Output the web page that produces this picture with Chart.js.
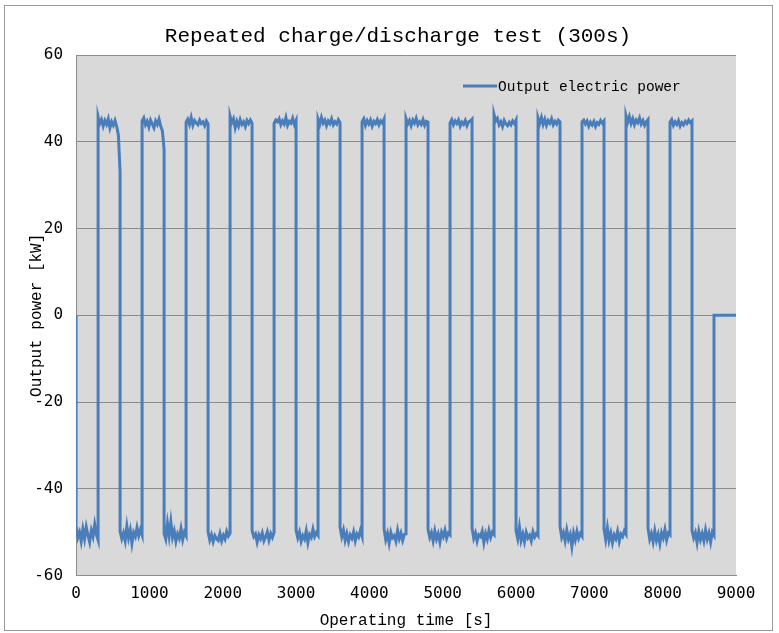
<!DOCTYPE html>
<html>
<head>
<meta charset="utf-8">
<title>Repeated charge/discharge test (300s)</title>
<script src="https://cdn.jsdelivr.net/npm/chart.js@4.4.1/dist/chart.umd.min.js"></script>
<style>
  html, body { margin: 0; padding: 0; background: #fff; }
  #frame {
    position: absolute; left: 4px; top: 5px;
    width: 767px; height: 624px;
    border: 1px solid #9a9a9a;
  }
  #wrap { position: absolute; left: 0; top: 0; width: 779px; height: 633px; }
</style>
</head>
<body>
<div id="frame"></div>
<div id="wrap"><canvas id="powerChart" width="779" height="633"></canvas></div>
<script>
// switching instants of the converter [s]; low (charge) and high (discharge) alternate
const switchTimes = [0, 300, 600, 900, 1200, 1500, 1800, 2100, 2400, 2700, 3000,
  3300, 3600, 3900, 4200, 4500, 4800, 5100, 5400, 5700, 6000, 6300, 6600, 6900,
  7200, 7500, 7800, 8100, 8400, 8700];

// logged output power on the charge plateaus [kW]
const lowReadings = [
  [-48.5, -51.2, -50.0, -52.1, -49.3, -51.5, -48.8, -50.7, -52.3, -49.6, -51.0, -48.2, -50.5, -51.8],
  [-49.8, -51.5, -50.2, -52.0, -48.6, -51.3, -49.5, -52.6, -50.1, -51.0, -48.9, -50.8, -49.4, -50.6],
  [-50.3, -51.6, -48.0, -50.9, -47.6, -51.2, -49.7, -52.1, -50.4, -51.4, -49.2, -51.7, -50.0, -50.8],
  [-49.9, -51.8, -50.6, -52.2, -50.8, -51.5, -51.9, -50.3, -52.0, -50.7, -51.6, -49.8, -50.9, -50.2],
  [-49.6, -51.0, -50.4, -52.3, -50.6, -51.5, -50.2, -52.0, -51.1, -49.9, -51.8, -50.3, -51.2, -50.0],
  [-49.5, -51.3, -50.0, -52.1, -50.8, -51.6, -49.7, -52.4, -50.5, -51.2, -49.3, -51.0, -50.1, -50.7],
  [-48.8, -51.0, -49.5, -51.9, -50.3, -52.2, -50.6, -51.4, -49.9, -52.0, -50.4, -51.1, -49.6, -50.9],
  [-49.2, -51.7, -50.3, -52.5, -50.0, -51.3, -50.8, -52.1, -49.6, -51.5, -50.2, -51.9, -50.5, -50.4],
  [-49.4, -51.2, -50.1, -52.0, -49.7, -51.6, -50.4, -52.3, -50.0, -51.0, -49.5, -51.4, -50.2, -50.6],
  [-49.0, -51.4, -50.2, -52.1, -50.6, -51.0, -49.8, -52.4, -50.3, -51.6, -49.6, -51.2, -50.0, -50.5],
  [-49.7, -51.5, -48.8, -51.9, -50.4, -52.2, -50.0, -51.3, -50.7, -52.0, -49.9, -51.1, -50.3, -50.8],
  [-48.6, -51.2, -50.1, -52.0, -49.5, -51.6, -50.5, -53.3, -50.2, -51.8, -49.8, -51.4, -50.3, -50.9],
  [-49.3, -51.7, -49.0, -51.9, -50.2, -52.4, -50.6, -51.5, -49.8, -52.1, -50.4, -51.0, -49.7, -50.4],
  [-49.0, -51.6, -50.3, -52.2, -49.7, -51.9, -50.5, -52.6, -50.1, -51.3, -49.4, -51.8, -50.2, -50.6],
  [-49.6, -51.3, -50.1, -52.4, -49.8, -51.7, -50.3, -52.0, -49.5, -51.6, -50.2, -52.3, -50.0, -50.7]
];

// logged output power on the discharge plateaus [kW]
const highReadings = [
  [45.8, 44.2, 45.1, 43.6, 44.9, 44.0, 45.3, 43.2, 44.6, 43.8, 44.9, 43.5, 41.5, 33.0],
  [44.8, 45.5, 43.9, 44.7, 43.4, 45.0, 44.1, 43.2, 44.8, 44.0, 45.2, 43.6, 42.5, 38.2],
  [44.5, 45.2, 44.0, 45.6, 43.8, 44.9, 44.3, 43.9, 45.0, 44.2, 44.6, 43.7, 44.8, 44.1],
  [45.9, 44.4, 45.3, 43.2, 44.7, 43.6, 45.1, 44.0, 44.6, 43.5, 44.9, 44.2, 45.0, 44.3],
  [44.2, 45.0, 44.6, 45.3, 43.9, 44.8, 44.1, 45.6, 43.8, 44.7, 44.3, 45.4, 44.0, 44.9],
  [45.2, 44.0, 45.6, 44.3, 45.0, 43.7, 44.8, 44.2, 45.3, 43.9, 44.6, 44.1, 45.1, 44.4],
  [44.6, 45.3, 43.8, 44.9, 44.1, 45.0, 43.6, 44.7, 44.2, 45.1, 43.9, 44.8, 44.3, 45.2],
  [45.3, 44.1, 44.9, 43.7, 45.0, 44.3, 45.4, 43.9, 44.6, 44.0, 45.1, 43.8, 44.7, 44.5],
  [44.3, 45.1, 43.9, 44.8, 44.2, 45.0, 43.6, 44.5, 44.0, 44.9, 43.7, 44.6, 44.8, 45.2],
  [46.3, 44.8, 45.4, 43.9, 44.6, 43.5, 44.9, 44.1, 43.7, 44.5, 43.9, 44.8, 44.2, 45.0],
  [45.5, 44.2, 45.6, 44.0, 45.2, 43.8, 44.9, 44.3, 45.3, 43.9, 44.7, 44.1, 45.0, 44.6],
  [44.6, 45.0, 44.1, 44.8, 43.6, 44.5, 43.9, 44.7, 43.5, 44.4, 44.0, 44.9, 44.3, 44.8],
  [46.0, 44.5, 45.8, 44.2, 45.3, 43.9, 45.0, 44.4, 45.5, 44.1, 44.9, 43.8, 44.6, 45.1],
  [44.5, 45.1, 43.8, 44.6, 44.0, 44.9, 43.6, 44.4, 43.9, 44.7, 44.2, 45.0, 44.4, 44.8]
];

// standby before the start and after the last cycle
const idleTimes = [0, 8700, 9000];
const idlePower = [0, 0, 0];

const xTicks = [0, 1000, 2000, 3000, 4000, 5000, 6000, 7000, 8000, 9000];
const yTicks = [-60, -40, -20, 0, 20, 40, 60];

// build the trace: idle -> low, high, low ... -> idle
const points = [{ x: idleTimes[0], y: idlePower[0] }];
for (let k = 0; k < switchTimes.length - 1; k++) {
  const t0 = switchTimes[k];
  const t1 = switchTimes[k + 1];
  const r = k % 2 === 0 ? lowReadings[k / 2] : highReadings[(k - 1) / 2];
  r.forEach((v, j) => {
    points.push({ x: t0 + j * (t1 - t0) / (r.length - 1), y: v });
  });
}
// last charge plateau runs up to the stop
const lastLow = lowReadings[lowReadings.length - 1];
const tEnd = idleTimes[1];
const tLast = switchTimes[switchTimes.length - 1];
if (tLast < tEnd) {
  lastLow.forEach((v, j) => points.push({ x: tLast + j * (tEnd - tLast) / (lastLow.length - 1), y: v }));
}
points.push({ x: idleTimes[1], y: idlePower[1] });
points.push({ x: idleTimes[2], y: idlePower[2] });

const monoSerif = "'Liberation Mono', 'DejaVu Sans Mono', monospace";
const monoSans = "'DejaVu Sans Mono', monospace";

// gray plot background, title and legend inside the plot
const chartDecor = {
  id: 'chartDecor',
  beforeDraw(chart) {
    const a = chart.chartArea;
    const ctx = chart.ctx;
    ctx.save();
    ctx.fillStyle = '#d9d9d9';
    ctx.fillRect(a.left, a.top, a.right - a.left, a.bottom - a.top);
    ctx.restore();
  },
  afterDraw(chart) {
    const a = chart.chartArea;
    const ctx = chart.ctx;
    ctx.save();
    ctx.fillStyle = '#000';
    ctx.textAlign = 'center';
    ctx.textBaseline = 'middle';
    ctx.font = "21px " + monoSerif;
    ctx.fillText('Repeated charge/discharge test (300s)', 398, 36);

    const lx = a.right - 273, ly = a.top + 31;
    ctx.strokeStyle = '#4a7ebb';
    ctx.lineWidth = 3;
    ctx.beginPath();
    ctx.moveTo(lx, ly);
    ctx.lineTo(lx + 34, ly);
    ctx.stroke();
    ctx.textAlign = 'left';
    ctx.font = "14.5px " + monoSerif;
    ctx.fillText(chart.data.datasets[0].label, lx + 35, ly + 1);
    ctx.restore();
  }
};

new Chart(document.getElementById('powerChart'), {
  type: 'line',
  data: {
    datasets: [{
      label: 'Output electric power',
      data: points,
      borderColor: '#4a7ebb',
      backgroundColor: '#4a7ebb',
      borderWidth: 3,
      pointRadius: 0,
      tension: 0,
      fill: false
    }]
  },
  options: {
    responsive: false,
    animation: false,
    layout: { padding: { top: 55, right: 43, bottom: 3, left: 8 } },
    plugins: {
      legend: { display: false },
      title: { display: false },
      tooltip: { enabled: false }
    },
    scales: {
      x: {
        type: 'linear',
        min: 0,
        max: 9000,
        afterBuildTicks: axis => { axis.ticks = xTicks.map(v => ({ value: v })); },
        grid: { display: false, drawTicks: false },
        border: { display: true, color: '#8c8c8c', width: 1 },
        ticks: {
          color: '#000', padding: 9, maxRotation: 0,
          font: { family: monoSans, size: 16 },
          callback: v => String(v)
        },
        title: {
          display: true,
          text: 'Operating time [s]',
          color: '#000',
          padding: { top: -2, bottom: 0 },
          font: { family: monoSerif, size: 16 }
        }
      },
      y: {
        min: -60,
        max: 60,
        afterBuildTicks: axis => { axis.ticks = yTicks.map(v => ({ value: v })); },
        grid: { color: '#8c8c8c', lineWidth: 1, drawTicks: false },
        border: { display: true, color: '#8c8c8c', width: 1 },
        ticks: {
          color: '#000', padding: 13,
          font: { family: monoSans, size: 16 },
          callback: v => String(v)
        },
        title: {
          display: true,
          text: 'Output power [kW]',
          color: '#000',
          padding: { top: 19, bottom: -25 },
          font: { family: monoSerif, size: 16 }
        }
      }
    }
  },
  plugins: [chartDecor]
});
</script>
</body>
</html>
